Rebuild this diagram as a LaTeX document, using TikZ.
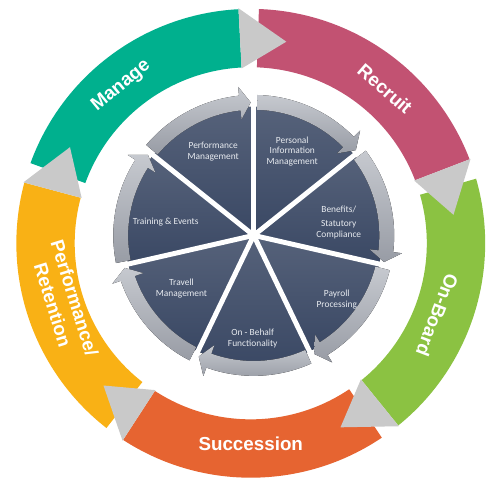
\documentclass[tikz,border=0pt]{standalone}
\usepackage{fontspec}
\setmainfont{Liberation Sans}
\newfontfamily\calfont{Carlito}
\definecolor{manage}{HTML}{00B08E}
\definecolor{recruit}{HTML}{C25272}
\definecolor{onboard}{HTML}{8BC242}
\definecolor{succession}{HTML}{E66431}
\definecolor{perform}{HTML}{F9B115}
\definecolor{headgray}{HTML}{C9C9C9}
\definecolor{slicetop}{HTML}{56627A}
\definecolor{slicebot}{HTML}{3A4864}
\definecolor{bandtop}{HTML}{C6C9CF}
\definecolor{bandbot}{HTML}{989CA5}
\definecolor{slicefont}{HTML}{E8EBF0}
\tikzset{
  ringtext/.style={text=white, font=\bfseries\fontsize{19}{23}\selectfont, align=center},
  slicetext/.style={text=slicefont, font=\calfont\fontsize{9.5}{10.8}\selectfont, align=center},
  headfill/.style={fill=headgray},
  bandfill/.style={top color=bandtop, bottom color=bandbot},
  slicefill/.style={top color=slicetop, bottom color=slicebot}
}
\begin{document}
\begin{tikzpicture}[x=1pt, y=1pt, line join=round, line cap=round]
\fill[white] (0,0) rectangle (497,-502);
\path
(246,-246) coordinate (O)
(249,-238) coordinate (I)
;
\foreach \s/\c in {88/recruit,16/onboard,-56/succession,-128/perform,-200/manage}
  \fill[\c] ([shift={(\s:178)}]O) arc[start angle=\s, end angle=\s-67, radius=178pt]
    -- ([shift={(\s-67:237)}]O) arc[start angle=\s-67, end angle=\s, radius=237pt] -- cycle;
\foreach \e in {21,-51,-123,-195,-267}
  \fill[headfill] ([shift={(\e:177)}]O) -- ([shift={(\e-13:207)}]O) -- ([shift={(\e:238)}]O) -- cycle;
\node[ringtext, rotate=39.5] (manage) at ([shift={(129.5:206)}]O) {Manage};
\node[ringtext, rotate=-41] (recruit) at ([shift={(49:207)}]O) {Recruit};
\node[ringtext, rotate=-111] (onboard) at ([shift={(-21:202)}]O) {On-Board};
\node[ringtext] (succession) at ([shift={(-90:203)}]O) {Succession};
\node[ringtext, rotate=-72.7] (perform) at ([shift={(-162.7:198)}]O) {Performance/\\Retention};
\foreach \k in {0,...,6}{
  \pgfmathsetmacro\a{90-\k*360/7}
  \pgfmathsetmacro\b{\a-360/7}
  \fill[slicefill] (I) -- ([shift={(\a:130)}]I) arc[start angle=\a, end angle=\b, radius=130pt] -- cycle;
  \fill[bandfill] ([shift={(\a-1.5:127)}]I) arc[start angle=\a-1.5, end angle=\b+6, radius=127pt]
    -- ([shift={(\b+6:118)}]I) -- ([shift={(\b+1.3:134.5)}]I) -- ([shift={(\b+6:151)}]I)
    -- ([shift={(\b+6:142)}]I) arc[start angle=\b+6, end angle=\a-1.5, radius=142pt] -- cycle;
}
\foreach \k in {0,...,6}
  \draw[white, line width=5pt, line cap=butt] (I) -- ++(90-\k*360/7:158);
\node[slicetext] (pim) at (288,-153) {Personal\\Information\\Management};
\node[slicetext] (benefits) at (335,-225) {Benefits/\\[3pt]Statutory\\Compliance};
\node[slicetext] (payroll) at (333,-303) {Payroll\\Processing};
\node[slicetext] (behalf) at (248,-342) {On - Behalf\\Functionality};
\node[slicetext] (travel) at (176,-292) {Travell\\Management};
\node[slicetext] (training) at (160,-225) {Training \& Events};
\node[slicetext] (perfmgmt) at (208,-153) {Performance\\Management};
\end{tikzpicture}
\end{document}
